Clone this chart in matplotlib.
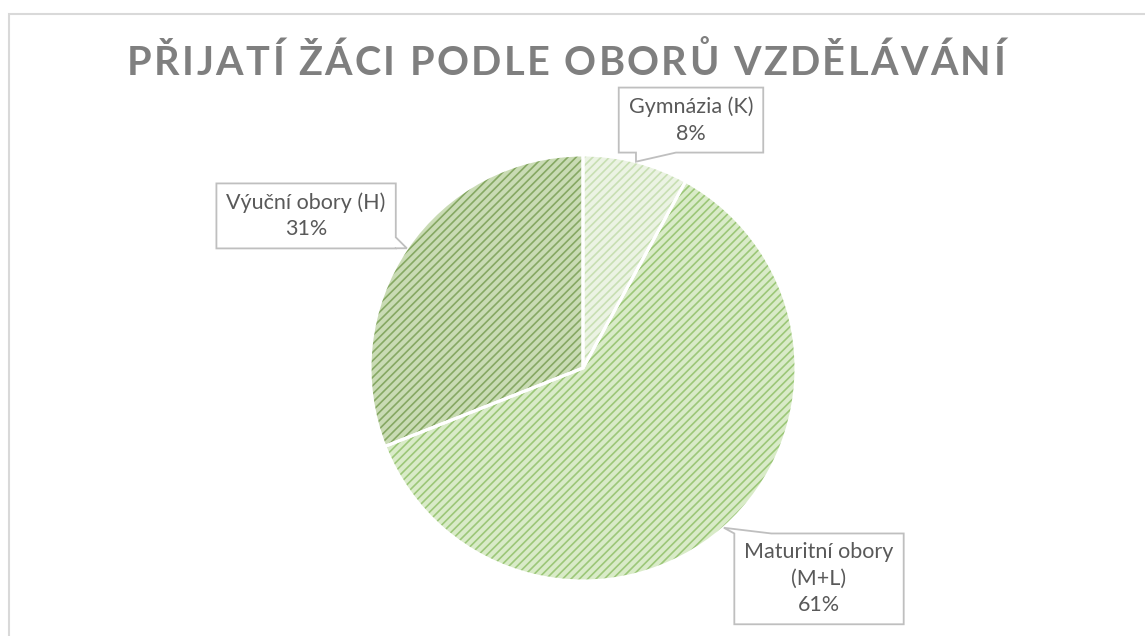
import numpy as np
import matplotlib
matplotlib.use('Agg')
import matplotlib.pyplot as plt
from matplotlib.patches import Polygon, Rectangle
from matplotlib.transforms import IdentityTransform


# data
labels = ['Gymnázia (K)', 'Maturitní obory\n(M+L)', 'Výuční obory (H)']
values = [8, 61, 31]
title = 'PŘIJATÍ ŽÁCI PODLE OBORŮ VZDĚLÁVÁNÍ'

face_colors = ['#ebf3e3', '#d9ebc8', '#c9dbb4']
hatch_colors = ['#c8dfb3', '#9cc778', '#86a863']
# label box centres, in pie radius units
label_pos = [(0.507, 1.164), (1.108, -0.99), (-1.30, 0.714)]
tab_widths = [40, 37, 11]

W, H = 1145, 636
plt.rcParams['hatch.linewidth'] = 1.2

fig = plt.figure(figsize=(W / 100, H / 100), dpi=100)
ax = fig.add_axes([370 / W, 55 / H, 426 / W, 426 / H])

wedges, _ = ax.pie(values, startangle=90, counterclock=False, colors=face_colors,
                   wedgeprops=dict(linewidth=0))
for w, hc in zip(wedges, hatch_colors):
    w.set_edgecolor(hc)   # hatch colour follows the edge colour
    w.set_linewidth(0)
    w.set_hatch('////')
ax.pie(values, startangle=90, counterclock=False, colors=['none'] * len(values),
       wedgeprops=dict(edgecolor='white', linewidth=2.2))
ax.set_xlim(-1, 1)
ax.set_ylim(-1, 1)
ax.axis('off')

renderer = fig.canvas.get_renderer()

# title with a bit of letter spacing
tprops = dict(fontsize=28.5, fontweight='bold', color='#7f7f7f', family='Lato')
widths = []
for ch in title:
    t = fig.text(0, 0, ch, **tprops)
    widths.append(t.get_window_extent(renderer).width)
    t.remove()
left, right = 127, 1005
gap = (right - left - sum(widths)) / (len(title) - 1)
x = left
for ch, cw in zip(title, widths):
    fig.text(x / W, (H - 75) / H, ch, va='baseline', ha='left', **tprops)
    x += cw + gap


def callout(text, tip, center, tab_w, padx=10, pady=9):
    t = fig.text(center[0] / W, center[1] / H, text, ha='center', va='center',
                 multialignment='center', fontsize=15.5, color='#595959',
                 family='Lato', linespacing=1.4, zorder=5)
    bb = t.get_window_extent(renderer)
    x0, x1 = bb.x0 - padx, bb.x1 + padx
    y0, y1 = bb.y0 - pady, bb.y1 + pady
    cx, cy = (x0 + x1) / 2, (y0 + y1) / 2
    dx = (tip[0] - cx) / ((x1 - x0) / 2)
    dy = (tip[1] - cy) / ((y1 - y0) / 2)
    tip = tuple(tip)
    if abs(dy) > abs(dx):
        a = np.clip(tip[0], x0, x1 - tab_w)
        if dy < 0:
            pts = [(x0, y0), (a, y0), tip, (a + tab_w, y0), (x1, y0), (x1, y1), (x0, y1)]
        else:
            pts = [(x0, y0), (x1, y0), (x1, y1), (a + tab_w, y1), tip, (a, y1), (x0, y1)]
    else:
        a = np.clip(tip[1], y0, y1 - tab_w)
        if dx > 0:
            pts = [(x0, y0), (x1, y0), (x1, a), tip, (x1, a + tab_w), (x1, y1), (x0, y1)]
        else:
            pts = [(x0, y0), (x1, y0), (x1, y1), (x0, y1), (x0, a + tab_w), tip, (x0, a)]
    poly = Polygon(pts, closed=True, facecolor='white', edgecolor='#bfbfbf',
                   linewidth=1.3, transform=IdentityTransform(), zorder=4)
    fig.add_artist(poly)


for w, lab, v, pos, tw in zip(wedges, labels, values, label_pos, tab_widths):
    mid = np.deg2rad((w.theta1 + w.theta2) / 2)
    tip = ax.transData.transform((np.cos(mid), np.sin(mid)))
    center = ax.transData.transform(pos)
    callout(lab + '\n' + str(v) + '%', tip, center, tw)

# chart area border
border = Rectangle((9, -10), 1300, H - 14 + 10, facecolor='none', edgecolor='#d9d9d9',
                   linewidth=1.5, transform=IdentityTransform(), zorder=1)
fig.add_artist(border)

plt.savefig('out.png', dpi=100)
plt.close()
